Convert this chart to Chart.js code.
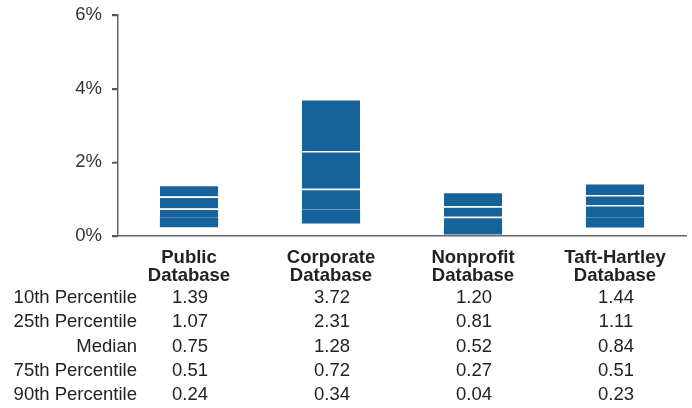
<!DOCTYPE html>
<html>
<head>
<meta charset="utf-8">
<script src="https://cdn.jsdelivr.net/npm/chart.js@4/dist/chart.umd.min.js"></script>
<style>
  html, body { margin: 0; padding: 0; background: #fff; }
  #wrap { width: 692px; height: 408px; }
</style>
</head>
<body>
<div id="wrap"><canvas id="chart"></canvas></div>
<script>
const categories = [['Public', 'Database'], ['Corporate', 'Database'], ['Nonprofit', 'Database'], ['Taft-Hartley', 'Database']];
const rowLabels = ['10th Percentile', '25th Percentile', 'Median', '75th Percentile', '90th Percentile'];
const p10 = [1.39, 3.72, 1.20, 1.44];
const p25 = [1.07, 2.31, 0.81, 1.11];
const median = [0.75, 1.28, 0.52, 0.84];
const p75 = [0.51, 0.72, 0.27, 0.51];
const p90 = [0.24, 0.34, 0.04, 0.23];
const yTicks = [0, 2, 4, 6];

const rows = [p10, p25, median, p75, p90];
const barColor = '#16639b';
const font = '"Liberation Sans", Arial, sans-serif';

// one floating segment per band, overlaid on the same category slot
function segment(lo, hi, topLine) {
    return {
        data: lo.map((v, i) => [v, hi[i]]),
        backgroundColor: barColor,
        borderColor: '#ffffff',
        borderWidth: { top: topLine ? 1.5 : 0, bottom: 0, left: 0, right: 0 },
        borderSkipped: false,
        grouped: false,
        barPercentage: 0.41,
        categoryPercentage: 1.0
    };
}

const tablePlugin = {
    id: 'valueTable',
    afterDraw(chart) {
        const ctx = chart.ctx;
        const x = chart.scales.x;
        const y = chart.scales.y;
        ctx.save();
        // small tick marks left of the y axis
        ctx.strokeStyle = '#555';
        ctx.lineWidth = 1.5;
        yTicks.forEach(v => {
            const py = Math.round(y.getPixelForValue(v)) + 0.5;
            ctx.beginPath();
            ctx.moveTo(y.right - 6, py);
            ctx.lineTo(y.right, py);
            ctx.stroke();
        });
        const top = chart.chartArea.bottom + 62;
        ctx.font = '18.5px ' + font;
        ctx.fillStyle = '#222';
        ctx.textBaseline = 'middle';
        rows.forEach((vals, r) => {
            const ry = top + r * 24.3;
            ctx.textAlign = 'right';
            ctx.fillText(rowLabels[r], 137, ry);
            ctx.textAlign = 'center';
            vals.forEach((v, i) => {
                ctx.fillText(v.toFixed(2), x.getPixelForValue(i) + 1, ry);
            });
        });
        ctx.restore();
    }
};

new Chart(document.getElementById('chart'), {
    type: 'bar',
    data: {
        labels: categories,
        datasets: [
            segment(p90, p75, false),
            segment(p75, median, true),
            segment(median, p25, true),
            segment(p25, p10, true)
        ]
    },
    options: {
        responsive: true,
        maintainAspectRatio: false,
        animation: false,
        layout: { padding: { top: 15, right: 6, bottom: 0, left: 0 } },
        plugins: {
            legend: { display: false },
            tooltip: { enabled: false }
        },
        scales: {
            x: {
                grid: { display: false, drawTicks: false },
                border: { color: '#666', width: 1.5 },
                ticks: {
                    color: '#222',
                    padding: 13,
                    maxRotation: 0,
                    font: { family: font, size: 18.5, weight: 'bold', lineHeight: 0.98 }
                },
                afterFit: (scale) => { scale.height = 172; scale.paddingLeft = 0; scale.paddingRight = 0; }
            },
            y: {
                min: 0,
                max: 6,
                afterBuildTicks: (scale) => { scale.ticks = yTicks.map(v => ({ value: v })); },
                grid: { display: true, drawOnChartArea: false, drawTicks: true, tickLength: 6, color: '#555', lineWidth: 1.5 },
                border: { color: '#666', width: 1.5 },
                ticks: {
                    color: '#333',
                    padding: 10,
                    font: { family: font, size: 18.5 },
                    callback: (v) => v + '%'
                },
                afterFit: (scale) => { scale.width = 118; scale.paddingTop = 0; scale.paddingBottom = 0; }
            }
        }
    },
    plugins: [tablePlugin]
});
</script>
</body>
</html>
